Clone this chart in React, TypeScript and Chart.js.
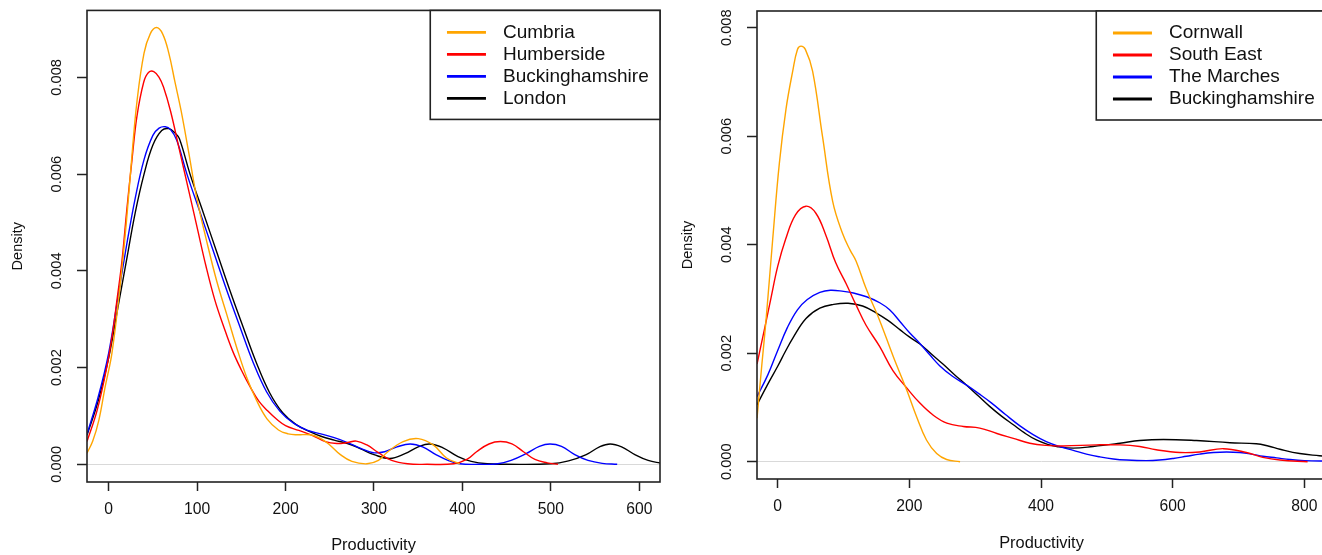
import React, { useEffect, useRef } from "react";
import { Chart, registerables } from "chart.js";

Chart.register(...registerables);

const FONT = "'Liberation Sans', Arial, Helvetica, sans-serif";

// ---------- tick labels ----------
const leftXTicks = [0, 100, 200, 300, 400, 500, 600];
const rightXTicks = [0, 200, 400, 600, 800];
const densityTicks = [0, 0.002, 0.004, 0.006, 0.008];

// ---------- series names & colours ----------
const leftLabels = ["Cumbria", "Humberside", "Buckinghamshire", "London"];
const rightLabels = ["Cornwall", "South East", "The Marches", "Buckinghamshire"];
const seriesColors = ["#FFA500", "#FF0000", "#0000FF", "#000000"];

// ---------- left panel: [productivity, density] ----------
const cumbria: [number, number][] = [
  [-24.5, 0.00023], [-18, 0.00048], [-11, 0.00092], [-4, 0.0016], [3.7, 0.0023], [13, 0.0037],
  [20, 0.005], [26.4, 0.0064], [32, 0.0075], [40, 0.0085], [47, 0.0089], [54, 0.00903],
  [61, 0.0089], [68, 0.0085], [75, 0.0079], [82, 0.0073], [90, 0.0065], [99.7, 0.0055],
  [111, 0.0046], [122, 0.0038], [133.5, 0.0031], [145, 0.0024], [156, 0.0018], [167, 0.00133],
  [179, 0.00094], [192, 0.00071], [203, 0.00063], [213, 0.00061], [228, 0.00061], [240, 0.00053],
  [250, 0.0004], [262, 0.0002], [275, 0.00006], [292, 0.00001], [305, 0.00008], [315, 0.00025],
  [333, 0.00047], [350, 0.00053], [367, 0.0004], [382, 0.00013], [397, 0.00001],
];
const humberside: [number, number][] = [
  [-24.5, 0.00047], [-13, 0.00112], [-2, 0.00202], [4, 0.00266], [9.4, 0.0034], [15, 0.0042],
  [20.7, 0.0053], [26.4, 0.0063], [32, 0.0072], [39.6, 0.0079], [45, 0.0081], [51, 0.00812],
  [57, 0.008], [62, 0.0078], [70, 0.0073], [80, 0.0065], [90, 0.0057], [100, 0.0049],
  [110, 0.0041], [120, 0.0034], [130, 0.00285], [140, 0.00235], [150, 0.00195], [160, 0.0016],
  [170, 0.0013], [180, 0.0011], [190, 0.00093], [200, 0.0008], [215, 0.0007], [230, 0.0006],
  [245, 0.00047], [258, 0.00043], [270, 0.00045], [280, 0.00048], [292, 0.0004], [305, 0.00024],
  [320, 0.00008], [338, 0.00001], [360, 0], [390, 0.00001], [405, 0.0001], [416, 0.00026],
  [430, 0.00042], [443, 0.00047], [456, 0.00042], [469, 0.00026], [482, 0.0001], [496, 0.00003],
  [508, 0],
];
const buckinghamshireL: [number, number][] = [
  [-24.5, 0.00062], [-12, 0.00138], [0, 0.0023], [10, 0.0034], [20, 0.0045], [30, 0.0055],
  [40, 0.0063], [50, 0.0068], [57, 0.00695], [64, 0.00698], [70, 0.00692], [77, 0.0067],
  [88.5, 0.006], [103.5, 0.0052], [118.5, 0.0044], [133.5, 0.0036], [148.5, 0.00284],
  [163.5, 0.0021], [178.5, 0.0015], [193.5, 0.0011], [209, 0.00085], [225, 0.0007],
  [240, 0.00063], [255, 0.00055], [270, 0.00045], [285, 0.00033], [299, 0.00024], [312, 0.00026],
  [326, 0.00036], [341, 0.00042], [355, 0.00036], [370, 0.0002], [385, 0.00007], [397, 0.00001],
  [420, 0], [440, 0.00001], [455, 0.00008], [472, 0.00022], [487, 0.00037], [499, 0.00042],
  [512, 0.00037], [527, 0.0002], [542, 0.00008], [558, 0.00002], [575, 0],
];
const london: [number, number][] = [
  [-24.5, 0.0006], [-12, 0.0013], [0, 0.0022], [10, 0.0032], [20, 0.0042], [30, 0.0052],
  [40, 0.006], [50, 0.0066], [60, 0.0069], [68, 0.00694], [75, 0.00685], [80, 0.00673],
  [92, 0.006], [107, 0.0052], [122, 0.0044], [137, 0.0036], [152, 0.00284], [167, 0.0021],
  [182, 0.00148], [197, 0.00106], [212, 0.00082], [228, 0.00067], [240, 0.00058], [255, 0.0005],
  [270, 0.00043], [285, 0.00032], [300, 0.0002], [318, 0.00012], [335, 0.00022], [350, 0.00036],
  [363, 0.00042], [378, 0.00034], [395, 0.00016], [410, 0.00006], [428, 0.00001], [450, 0],
  [500, 0.00001], [520, 0.00007], [540, 0.0002], [555, 0.00036], [567, 0.00042], [580, 0.00036],
  [595, 0.0002], [610, 0.00008], [625, 0.00002],
];

// ---------- right panel: [productivity, density] ----------
const cornwall: [number, number][] = [
  [-31.4, 0.0008], [-24, 0.0018], [-17.8, 0.0026], [-7.6, 0.0041], [2.5, 0.0055], [12.6, 0.0065],
  [22.8, 0.0072], [30, 0.0076], [35.4, 0.00766], [42, 0.0076], [53, 0.0072], [68, 0.006],
  [83.5, 0.0048], [98.7, 0.0042], [110, 0.0039], [119, 0.0037], [134, 0.0032], [155, 0.0026],
  [175.5, 0.00194], [196, 0.00132], [211, 0.00083], [226, 0.0004], [241.5, 0.00015],
  [256.6, 0.00004], [277, 0],
];
const southEast: [number, number][] = [
  [-31.4, 0.0018], [-20, 0.00245], [-10, 0.00303], [0, 0.0036], [12, 0.0041], [27, 0.00455],
  [43, 0.00471], [58, 0.00458], [73, 0.00418], [88, 0.00367], [104, 0.00328], [119, 0.00289],
  [134, 0.00252], [155, 0.00212], [175, 0.00168], [196, 0.00136], [216, 0.00108], [236, 0.00086],
  [257, 0.00071], [282, 0.00065], [307, 0.00062], [333, 0.00052], [358, 0.00043], [383, 0.00034],
  [408, 0.0003], [434, 0.00029], [484, 0.00031], [520, 0.00031], [550, 0.00028], [575, 0.00022],
  [611, 0.00017], [641, 0.00018], [677, 0.00024], [712, 0.00017], [737, 0.00008], [763, 0.00003],
  [805, 0],
];
const theMarches: [number, number][] = [
  [-31.4, 0.0012], [-15, 0.0016], [0, 0.00205], [15, 0.00248], [30, 0.0028], [45, 0.00299],
  [64, 0.00312], [80, 0.00316], [100, 0.00314], [115, 0.00311], [135, 0.00304], [155, 0.00293],
  [170, 0.0028], [186, 0.00258], [200, 0.00238], [216, 0.00218], [231, 0.00197], [246, 0.00177],
  [265, 0.00158], [287, 0.00141], [306, 0.00125], [325, 0.00108], [346, 0.00087], [368, 0.00066],
  [388, 0.0005], [408, 0.00037], [428, 0.00028], [449, 0.00021], [469, 0.00014], [489, 0.00009],
  [510, 0.00005], [530, 0.00003], [560, 0.00002], [580, 0.00003], [601, 0.00006], [621, 0.0001],
  [641, 0.00014], [662, 0.00017], [682, 0.00018], [702, 0.00017], [720, 0.00014], [737, 0.0001],
  [758, 0.00007], [778, 0.00004], [800, 0.00002], [840, 0.00001],
];
const buckinghamshireR: [number, number][] = [
  [-31.4, 0.00105], [-15, 0.00143], [0, 0.00176], [12, 0.00204], [23, 0.00228], [43, 0.00264],
  [64, 0.00283], [85, 0.0029], [107, 0.00292], [129, 0.00287], [150, 0.00274], [168, 0.0026],
  [186, 0.00243], [200, 0.0023], [216, 0.00217], [233, 0.00199], [251, 0.0018], [269, 0.0016],
  [287, 0.00141], [305, 0.00121], [322, 0.00102], [340, 0.00084], [358, 0.00068], [375, 0.00053],
  [393, 0.0004], [410, 0.00032], [424, 0.00028], [449, 0.00025], [479, 0.00028], [520, 0.00034],
  [550, 0.00039], [586, 0.00041], [636, 0.00039], [687, 0.00035], [727, 0.00033], [745, 0.00029],
  [763, 0.00023], [793, 0.00015], [823, 0.00011], [840, 0.00009],
];

const leftSeries = [cumbria, humberside, buckinghamshireL, london];
const rightSeries = [cornwall, southEast, theMarches, buckinghamshireR];

// ---------- plugin: plot frame + boxed legend inside the top-right corner ----------
const frameAndLegend = {
  id: "frameAndLegend",
  afterDatasetsDraw(chart: any) {
    const { ctx, chartArea: a } = chart;
    ctx.save();
    ctx.strokeStyle = "#222";
    ctx.lineWidth = 1.6;
    ctx.strokeRect(a.left, a.top, a.right - a.left, a.bottom - a.top);

    ctx.font = `19px ${FONT}`;
    const ds = chart.data.datasets;
    const tw = Math.max(...ds.map((d: any) => ctx.measureText(d.label).width));
    const boxW = 84 + tw;
    const boxL = a.right - boxW;
    const boxH = 109;
    ctx.fillStyle = "#fff";
    ctx.fillRect(boxL, a.top, boxW, boxH);
    ctx.strokeStyle = "#222";
    ctx.lineWidth = 1.6;
    ctx.strokeRect(boxL, a.top, boxW, boxH);
    ds.forEach((d: any, i: number) => {
      const y = a.top + 22 + 22 * i;
      ctx.strokeStyle = d.borderColor;
      ctx.lineWidth = 2.8;
      ctx.lineCap = "butt";
      ctx.beginPath();
      ctx.moveTo(boxL + 16.7, y);
      ctx.lineTo(boxL + 55.7, y);
      ctx.stroke();
      ctx.fillStyle = "#111";
      ctx.textBaseline = "middle";
      ctx.textAlign = "left";
      ctx.fillText(d.label, boxL + 72.7, y);
    });
    ctx.restore();
  },
};

type PanelSpec = {
  labels: string[];
  series: [number, number][][];
  xTicks: number[];
  xMin: number;
  xMax: number;
  yMin: number;
  yMax: number;
  padTop: number;
  padRight: number;
  xAxisHeight: number;
};

function buildConfig(p: PanelSpec): any {
  return {
    type: "line",
    data: {
      datasets: p.series.map((s, i) => ({
        label: p.labels[i],
        data: s.map(([x, y]) => ({ x, y })),
        borderColor: seriesColors[i],
        borderWidth: 1.4,
        pointRadius: 0,
        fill: false,
        tension: 0.4,
      })),
    },
    options: {
      responsive: false,
      maintainAspectRatio: false,
      animation: false,
      devicePixelRatio: 1,
      events: [],
      layout: { padding: { left: 0, top: p.padTop, right: p.padRight, bottom: 0 } },
      plugins: { legend: { display: false }, tooltip: { enabled: false } },
      scales: {
        x: {
          type: "linear",
          min: p.xMin,
          max: p.xMax,
          afterBuildTicks: (s: any) => {
            s.ticks = p.xTicks.map((v) => ({ value: v }));
          },
          afterFit: (s: any) => {
            s.height = p.xAxisHeight;
          },
          border: { display: false },
          grid: {
            drawOnChartArea: false,
            drawTicks: true,
            tickLength: 9,
            tickColor: "#222",
            tickWidth: 1.5,
          },
          ticks: {
            color: "#111",
            font: { family: FONT, size: 15.7 },
            minRotation: 0,
            maxRotation: 0,
            autoSkip: false,
            padding: 9,
            callback: (v: any) => String(v),
          },
          title: {
            display: true,
            text: "Productivity",
            color: "#111",
            font: { family: FONT, size: 16.4 },
            padding: { top: 0, bottom: 0 },
          },
        },
        y: {
          type: "linear",
          min: p.yMin,
          max: p.yMax,
          afterBuildTicks: (s: any) => {
            s.ticks = densityTicks.map((v) => ({ value: v }));
          },
          afterFit: (s: any) => {
            s.width = 87;
          },
          border: { display: false },
          grid: {
            drawOnChartArea: true,
            color: (c: any) => (c.tick && c.tick.value === 0 ? "#d9d9d9" : "rgba(0,0,0,0)"),
            lineWidth: 1,
            drawTicks: true,
            tickLength: 10,
            tickColor: "#222",
            tickWidth: 1.5,
          },
          ticks: {
            color: "#111",
            font: { family: FONT, size: 14.7 },
            minRotation: 90,
            maxRotation: 90,
            crossAlign: "center",
            padding: 1.6,
            autoSkip: false,
            callback: (v: any) => Number(v).toFixed(3),
          },
          title: {
            display: true,
            text: "Density",
            color: "#111",
            font: { family: FONT, size: 14.5 },
            padding: { top: 9.6, bottom: 0 },
          },
        },
      },
    },
    plugins: [frameAndLegend],
  };
}

function Panel({ spec, left, width, height }: { spec: PanelSpec; left: number; width: number; height: number }) {
  const ref = useRef<HTMLCanvasElement>(null);
  useEffect(() => {
    if (!ref.current) return;
    const chart = new Chart(ref.current, buildConfig(spec));
    return () => chart.destroy();
  }, []);
  return (
    <canvas
      ref={ref}
      width={width}
      height={height}
      style={{ position: "absolute", left, top: 0, width, height }}
    />
  );
}

const leftSpec: PanelSpec = {
  labels: leftLabels,
  series: leftSeries,
  xTicks: leftXTicks,
  xMin: -24.5,
  xMax: 623.4,
  yMin: -0.000366,
  yMax: 0.009384,
  padTop: 10,
  padRight: 5,
  xAxisHeight: 73,
};

const rightSpec: PanelSpec = {
  labels: rightLabels,
  series: rightSeries,
  xTicks: rightXTicks,
  xMin: -31.45,
  xMax: 832.96,
  yMin: -0.000319,
  yMax: 0.008308,
  padTop: 11,
  padRight: 5,
  xAxisHeight: 74,
};

export default function App() {
  return (
    <div
      style={{
        position: "absolute",
        left: 0,
        top: 0,
        width: 1322,
        height: 555,
        overflow: "hidden",
        background: "#fff",
      }}
    >
      <Panel spec={leftSpec} left={0} width={665} height={555} />
      <Panel spec={rightSpec} left={670} width={661} height={553} />
    </div>
  );
}
